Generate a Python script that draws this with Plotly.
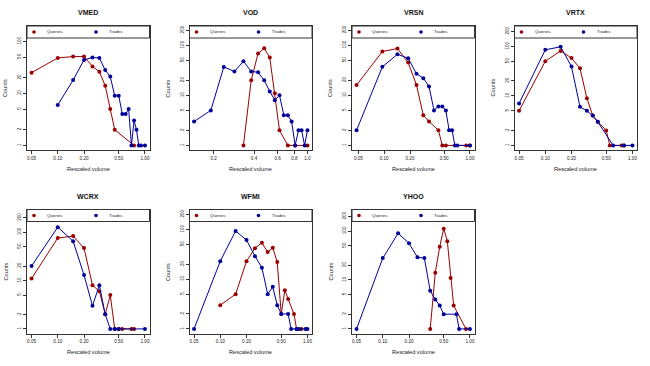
import math
import plotly.graph_objects as go

# rescaled volume of a bin = bin / N
VMED_N = 20
VMED_query_bins = [1, 2, 3, 4, 5, 6, 7, 8, 9, 15]
VMED_query_counts = [25, 48, 51, 51, 33, 26, 14, 5, 2, 1]
VMED_trade_bins = [2, 3, 4, 5, 6, 7, 8, 9, 10, 11, 12, 13, 14, 15, 16, 17, 18, 20]
VMED_trade_counts = [6, 18, 44, 49, 48, 28, 21, 9, 9, 4, 4, 5, 1, 3, 2, 1, 1, 1]

VOD_N = 21
VOD_query_bins = [7, 8, 9, 10, 11, 12, 13, 15, 17, 21]
VOD_query_counts = [1, 20, 69, 87, 57, 11, 2, 1, 1, 1]
VOD_trade_bins = [3, 4, 5, 6, 7, 8, 9, 10, 11, 12, 13, 14, 15, 16, 17, 18, 19, 20, 21]
VOD_trade_counts = [3, 5, 37, 30, 48, 30, 29, 20, 12, 8, 10, 4, 4, 3, 1, 2, 2, 1, 2]

VRSN_N = 21
VRSN_query_bins = [1, 2, 3, 4, 5, 6, 7, 9, 10, 11, 19, 21]
VRSN_query_counts = [16, 75, 86, 45, 16, 4, 3, 2, 1, 1, 1, 1]
VRSN_trade_bins = [1, 2, 3, 4, 5, 6, 7, 8, 9, 10, 11, 12, 13, 14, 15, 21]
VRSN_trade_counts = [2, 37, 66, 55, 27, 22, 15, 5, 6, 6, 5, 2, 2, 1, 1, 1]

VRTX_N = 20
VRTX_query_bins = [1, 2, 3, 4, 5, 6, 7, 8, 10, 11, 15, 16]
VRTX_query_counts = [5, 50, 81, 58, 36, 9, 4, 3, 2, 1, 1, 1]
VRTX_trade_bins = [1, 2, 3, 4, 5, 6, 7, 8, 12, 16, 20]
VRTX_trade_counts = [7, 85, 98, 39, 6, 5, 4, 3, 1, 1, 1]

WCRX_N = 20
WCRX_query_bins = [1, 2, 3, 4, 5, 6, 7, 8, 9, 10, 11, 14, 15]
WCRX_query_counts = [11, 76, 83, 47, 8, 6, 2, 5, 1, 1, 1, 1, 1]
WCRX_trade_bins = [1, 2, 3, 4, 5, 6, 7, 8, 9, 10, 20]
WCRX_trade_counts = [20, 127, 65, 13, 3, 8, 2, 1, 1, 1, 1]

WFMI_N = 20
WFMI_query_bins = [2, 3, 4, 5, 6, 7, 8, 9, 10, 11, 12, 14, 15, 17]
WFMI_query_counts = [3, 5, 23, 42, 54, 35, 43, 22, 2, 6, 4, 2, 1, 1]
WFMI_trade_bins = [1, 2, 3, 4, 5, 6, 7, 8, 9, 10, 12, 13, 15, 16, 19, 20]
WFMI_trade_counts = [1, 23, 93, 61, 29, 17, 5, 7, 3, 2, 2, 1, 1, 1, 1, 1]

YHOO_N = 20
YHOO_query_bins = [7, 8, 9, 10, 11, 12, 13, 18]
YHOO_query_counts = [1, 14, 48, 112, 62, 11, 3, 1]
YHOO_trade_bins = [1, 2, 3, 4, 5, 6, 7, 8, 9, 10, 14, 15, 20]
YHOO_trade_counts = [1, 28, 90, 56, 29, 28, 6, 4, 3, 2, 2, 1, 1]

ticks_2dp = ["0.05", "0.10", "0.20", "0.50", "1.00"]
ticks_1dp = ["0.2", "0.4", "0.6", "0.8", "1.0"]
y_ticks = [1, 2, 5, 10, 20, 50, 100, 200]

panels = [
    ("VMED", VMED_N, VMED_query_bins, VMED_query_counts, VMED_trade_bins, VMED_trade_counts, ticks_2dp),
    ("VOD", VOD_N, VOD_query_bins, VOD_query_counts, VOD_trade_bins, VOD_trade_counts, ticks_1dp),
    ("VRSN", VRSN_N, VRSN_query_bins, VRSN_query_counts, VRSN_trade_bins, VRSN_trade_counts, ticks_2dp),
    ("VRTX", VRTX_N, VRTX_query_bins, VRTX_query_counts, VRTX_trade_bins, VRTX_trade_counts, ticks_2dp),
    ("WCRX", WCRX_N, WCRX_query_bins, WCRX_query_counts, WCRX_trade_bins, WCRX_trade_counts, ticks_2dp),
    ("WFMI", WFMI_N, WFMI_query_bins, WFMI_query_counts, WFMI_trade_bins, WFMI_trade_counts, ticks_2dp),
    ("YHOO", YHOO_N, YHOO_query_bins, YHOO_query_counts, YHOO_trade_bins, YHOO_trade_counts, ticks_2dp),
]

RED = "#990000"
BLUE = "#000099"
FRAME = "#333333"
FONT = "Liberation Sans, Arial, sans-serif"
W, H = 650, 366

fig = go.Figure()
shapes = []
annotations = []

for i, (name, n, qb, qc, tb, tc, xtext) in enumerate(panels):
    row, col = divmod(i, 4)
    left = 162.5 * col + 27
    right = left + 122.5
    top = 26 + 183.5 * row
    bottom = top + 124
    ax = "" if i == 0 else str(i + 1)

    qx = [k / n for k in qb]
    tx = [k / n for k in tb]

    lx0 = math.log10(min(qx + tx))
    lx1 = math.log10(max(qx + tx))
    xpad = 0.04 * (lx1 - lx0)
    ly1 = math.log10(max(qc + tc) + 110)
    ypad = 0.04 * ly1

    for xs, ys, c, label in [(qx, qc, RED, "Queries"), (tx, tc, BLUE, "Trades")]:
        fig.add_trace(go.Scatter(
            x=xs, y=ys, mode="lines+markers", name=label,
            xaxis="x" + ax, yaxis="y" + ax,
            line=dict(color=c, width=1),
            marker=dict(color=c, size=4),
            showlegend=False,
        ))

    xvals = [float(t) for t in xtext]
    yvals = [v for v in y_ticks if math.log10(v) <= ly1 + ypad]

    fig.update_layout({
        "xaxis" + ax: dict(
            domain=[left / W, right / W], anchor="y" + ax, type="log",
            range=[lx0 - xpad, lx1 + xpad],
            tickvals=xvals, ticktext=xtext,
            showline=True, mirror=True, linecolor=FRAME, linewidth=1,
            ticks="outside", ticklen=3, tickwidth=1, tickcolor=FRAME,
            showgrid=False, zeroline=False,
            tickfont=dict(size=4.6, color="#222222", family=FONT),
        ),
        "yaxis" + ax: dict(
            domain=[1 - bottom / H, 1 - top / H], anchor="x" + ax, type="log",
            range=[-ypad, ly1 + ypad],
            tickvals=yvals, ticktext=[str(v) for v in yvals], tickangle=-90,
            showline=True, mirror=True, linecolor=FRAME, linewidth=1,
            ticks="outside", ticklen=3, tickwidth=1, tickcolor=FRAME,
            showgrid=False, zeroline=False,
            tickfont=dict(size=4.6, color="#222222", family=FONT),
        ),
    })

    # legend box across the top of each panel
    xd, yd = "x" + ax + " domain", "y" + ax + " domain"
    leg_h = 12 / 124
    shapes.append(dict(type="rect", xref=xd, yref=yd, x0=0, x1=1, y0=1 - leg_h, y1=1,
                       fillcolor="white", line=dict(color=FRAME, width=1)))
    for xo, c, label in [(7, RED, "Queries"), (69, BLUE, "Trades")]:
        shapes.append(dict(type="circle", xref=xd, yref=yd,
                           xsizemode="pixel", ysizemode="pixel",
                           xanchor=xo / 122.5, yanchor=1 - leg_h / 2,
                           x0=-1.8, x1=1.8, y0=-1.8, y1=1.8,
                           fillcolor=c, line=dict(width=0)))
        annotations.append(dict(xref=xd, yref=yd, x=(xo + 11) / 122.5, y=1 - leg_h / 2,
                                text=label, showarrow=False, xanchor="left", yanchor="middle",
                                font=dict(size=4.4, color="#222222", family=FONT)))

    # panel title and axis titles
    cx = (left + right) / 2 / W
    annotations.append(dict(xref="paper", yref="paper", x=cx, y=1 - (top - 13.5) / H,
                            text="<b>" + name + "</b>", showarrow=False,
                            xanchor="center", yanchor="middle",
                            font=dict(size=7, color="#111111", family=FONT)))
    annotations.append(dict(xref="paper", yref="paper", x=cx, y=1 - (bottom + 18.5) / H,
                            text="Rescaled volume", showarrow=False,
                            xanchor="center", yanchor="middle",
                            font=dict(size=5.6, color="#222222", family=FONT)))
    annotations.append(dict(xref="paper", yref="paper", x=(162.5 * col + 5) / W,
                            y=1 - (top + bottom) / 2 / H,
                            text="Counts", showarrow=False, textangle=-90,
                            xanchor="center", yanchor="middle",
                            font=dict(size=5.6, color="#222222", family=FONT)))

fig.update_layout(
    width=W, height=H,
    margin=dict(l=0, r=0, t=0, b=0),
    paper_bgcolor="white", plot_bgcolor="white",
    showlegend=False,
    shapes=shapes, annotations=annotations,
)

# the page body has a default 8px margin; drop it so the figure sits at the window origin
fig.write_html("out.html", config={"displayModeBar": False},
               post_script="document.body.style.margin = '0';")
